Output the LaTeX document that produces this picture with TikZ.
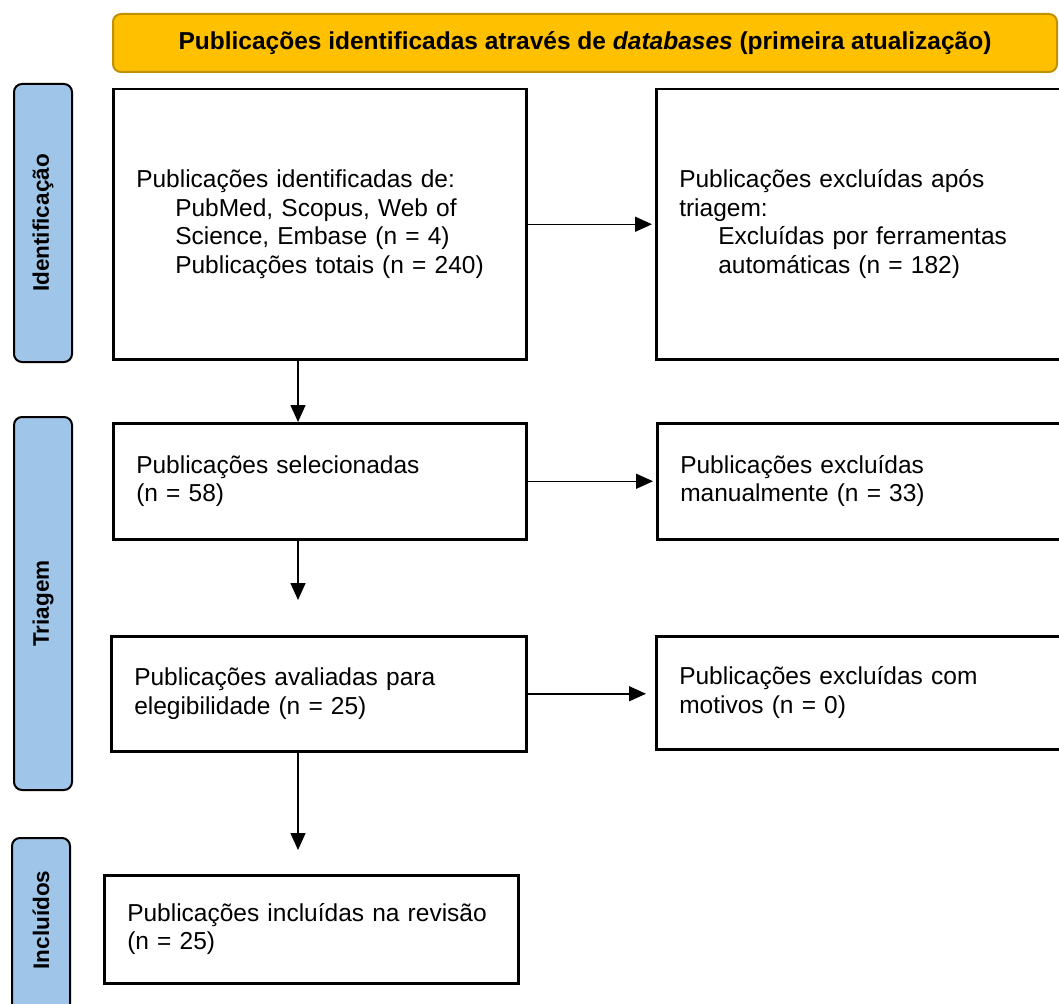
\documentclass[tikz,border=0pt]{standalone}
\usepackage{fontspec}
\setmainfont{Liberation Sans}
\usetikzlibrary{arrows.meta}
\definecolor{hdrfill}{HTML}{FFC000}
\definecolor{hdrdraw}{HTML}{BF9000}
\definecolor{phasefill}{HTML}{9FC5E8}
\begin{document}
\begin{tikzpicture}[x=1pt,y=-1pt,
  box/.style={draw=black, line width=2.5pt, rectangle, align=left, inner xsep=23pt, inner ysep=0pt,
    font=\fontsize{24.5}{28.5}\selectfont, anchor=north west},
  phase/.style={draw=black, line width=2pt, fill=phasefill, rounded corners=8pt, rotate=90,
    minimum height=58pt, inner sep=0pt, font=\bfseries\fontsize{22.5}{25}\selectfont},
  header/.style={draw=hdrdraw, line width=2pt, fill=hdrfill, rounded corners=8pt,
    minimum width=944pt, minimum height=58pt, inner sep=0pt, font=\bfseries\fontsize{24.5}{27}\selectfont},
  arr/.style={line width=1.5pt, -{Triangle[length=17pt,width=15pt]}}]
\useasboundingbox (0,0) rectangle (1059,1003);
\clip (0,0) rectangle (1059,1003);
\fill[white] (0,0) rectangle (1059,1003);

\node[header] (hdr) at (585,43) {Publicações identificadas através de \textit{databases} (primeira atualização)};

\node[phase, minimum width=278pt] (pid) at (43,223) {Identificação};
\node[phase, minimum width=373pt] (ptr) at (43,603.5) {Triagem};
\node[phase, minimum width=200pt] (pin) at (41,938) {};
\node[rotate=90, inner sep=0pt, font=\bfseries\fontsize{22.5}{25}\selectfont] (pinl) at (41,920) {Incluídos};

\node[box, text width=367pt, minimum height=270pt] (A) at (112,88) {Publicações identificadas de:\\
\hspace*{39pt}PubMed, Scopus, Web of\\
\hspace*{39pt}Science, Embase (n = 4)\\
\hspace*{39pt}Publicações totais (n = 240)};

\node[box, text width=384pt, minimum height=270pt] (B) at (655,88) {Publicações excluídas após\\
triagem:\\
\hspace*{39pt}Excluídas por ferramentas\\
\hspace*{39pt}automáticas (n = 182)};

\node[box, text width=367pt, minimum height=116pt] (C) at (112,422) {Publicações selecionadas\\(n = 58)};
\node[box, text width=384pt, minimum height=116pt] (D) at (656,422) {Publicações excluídas\\manualmente (n = 33)};
\node[box, text width=369pt, minimum height=115pt] (E) at (110,635) {Publicações avaliadas para\\elegibilidade (n = 25)};
\node[box, text width=384pt, minimum height=113pt] (F) at (655,635) {Publicações excluídas com\\motivos (n = 0)};
\node[box, text width=368pt, minimum height=108pt] (G) at (103,874) {Publicações incluídas na revisão\\(n = 25)};

\coordinate (vx) at (298,0);
\draw[arr, shorten >=3pt] (A.east) -- (A.east -| B.west);
\draw[arr, shorten >=3pt] (C.east) -- (C.east -| D.west);
\draw[arr, shorten >=9pt] (E.east) -- (E.east -| F.west);
\draw[arr] (A.south -| vx) -- (C.north -| vx);
\draw[arr, shorten >=35pt] (C.south -| vx) -- (E.north -| vx);
\draw[arr, shorten >=24pt] (E.south -| vx) -- (G.north -| vx);
\end{tikzpicture}
\end{document}
